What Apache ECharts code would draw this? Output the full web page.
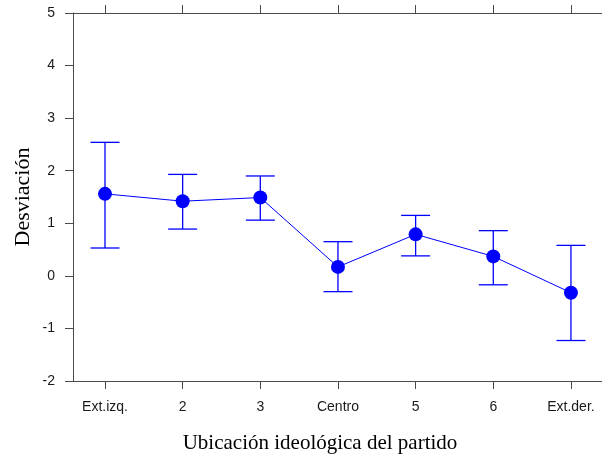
<!DOCTYPE html>
<html><head><meta charset="utf-8">
<script src="https://cdn.jsdelivr.net/npm/echarts@6/dist/echarts.min.js"></script>
<style>html,body{margin:0;padding:0;background:#fff}#c{width:602px;height:454px}</style>
</head><body><div id="c"></div>
<script>
const categories = ['Ext.izq.', '2', '3', 'Centro', '5', '6', 'Ext.der.'];
const means = [1.56, 1.42, 1.49, 0.17, 0.79, 0.37, -0.32];
const lower = [0.53, 0.89, 1.06, -0.30, 0.38, -0.17, -1.23];
const upper = [2.54, 1.93, 1.90, 0.65, 1.15, 0.86, 0.58];
const yTicks = [-2, -1, 0, 1, 2, 3, 4, 5];
const xTitle = 'Ubicación ideológica del partido';
const yTitle = 'Desviación';

const positions = categories.map((c, i) => i + 1);
const axisColor = '#4a4a4a';
const blue = '#0000ff';

const chart = echarts.init(document.getElementById('c'), null, {renderer: 'canvas'});
chart.setOption({
  animation: false,
  backgroundColor: '#ffffff',
  grid: {left: 73, right: 0, top: 13, bottom: 73, containLabel: false, outerBoundsMode: 'none'},
  xAxis: [
    {
      type: 'value', position: 'bottom', min: 0.588, max: 7.4,
      axisLine: {show: true, onZero: false, lineStyle: {color: axisColor, width: 1}},
      axisTick: {show: true, length: 8, customValues: positions, lineStyle: {color: axisColor, width: 1}},
      axisLabel: {
        customValues: positions, margin: 19, color: '#1a1a1a',
        fontFamily: 'Liberation Sans', fontSize: 14,
        formatter: v => categories[Math.round(v) - 1] || ''
      },
      splitLine: {show: false}
    },
    {
      type: 'value', position: 'top', min: 0.588, max: 7.4,
      axisLine: {show: true, onZero: false, lineStyle: {color: axisColor, width: 1}},
      axisTick: {show: true, length: 8, customValues: positions, lineStyle: {color: axisColor, width: 1}},
      axisLabel: {show: false},
      splitLine: {show: false}
    }
  ],
  yAxis: {
    type: 'value', min: yTicks[0], max: yTicks[yTicks.length - 1], interval: 1,
    axisLine: {show: true, onZero: false, lineStyle: {color: axisColor, width: 1}},
    axisTick: {show: true, length: 8, lineStyle: {color: axisColor, width: 1}},
    axisLabel: {margin: 18, color: '#1a1a1a', fontFamily: 'Liberation Sans', fontSize: 14},
    splitLine: {show: false}
  },
  graphic: [
    {type: 'text', x: 320, y: 443, style: {text: xTitle, fill: '#000', font: '21px "Liberation Serif"', textAlign: 'center', textVerticalAlign: 'middle'}},
    {type: 'text', x: 23, y: 197, rotation: Math.PI / 2, style: {text: yTitle, fill: '#000', font: '22px "Liberation Serif"', textAlign: 'center', textVerticalAlign: 'middle'}}
  ],
  series: [
    {
      type: 'custom',
      xAxisIndex: 0,
      data: positions.map((p, i) => [p, lower[i], upper[i]]),
      encode: {x: 0, y: [1, 2]},
      renderItem: (params, api) => {
        const x = api.value(0);
        const pLo = api.coord([x, api.value(1)]);
        const pHi = api.coord([x, api.value(2)]);
        const w = 14.5;
        const style = {stroke: blue, lineWidth: 1.3, fill: null};
        return {type: 'group', children: [
          {type: 'line', shape: {x1: pLo[0], y1: pLo[1], x2: pHi[0], y2: pHi[1]}, style},
          {type: 'line', shape: {x1: pLo[0] - w, y1: pLo[1], x2: pLo[0] + w, y2: pLo[1]}, style},
          {type: 'line', shape: {x1: pHi[0] - w, y1: pHi[1], x2: pHi[0] + w, y2: pHi[1]}, style}
        ]};
      }
    },
    {
      type: 'line',
      xAxisIndex: 0,
      data: positions.map((p, i) => [p, means[i]]),
      symbol: 'circle', symbolSize: 14,
      itemStyle: {color: blue},
      lineStyle: {color: blue, width: 1}
    }
  ]
});
</script>
</body></html>
